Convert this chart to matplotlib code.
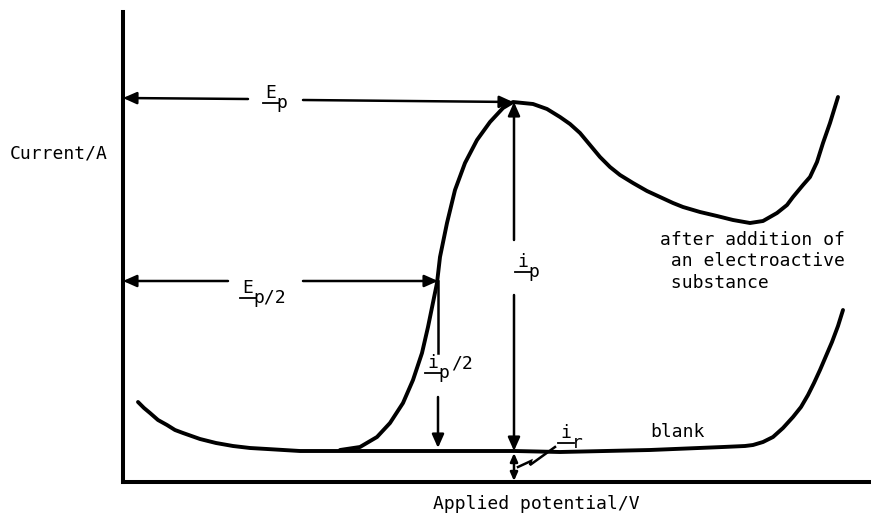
import matplotlib
matplotlib.use("Agg")
import matplotlib.pyplot as plt
from matplotlib.transforms import offset_copy

# ---- data (arbitrary units: potential along x, current along y) ----
blank_x = [15, 21, 27, 35, 44, 52, 60, 77, 93, 110, 127, 144, 177, 224, 327, 392, 437, 527, 600, 622,
           630, 640, 650, 660, 670, 678, 685, 691, 697, 703, 709, 715, 720]
blank_y = [80, 74, 69, 62, 57, 52, 49, 43, 39, 36, 34, 33, 31, 31, 31, 31, 30, 32, 35, 36,
           37, 40, 45, 54, 65, 75, 87, 99, 112, 126, 140, 156, 172]

peak_x = [217, 237, 254, 267, 280, 290, 299, 305, 314, 317, 324, 332, 342, 354, 367, 380, 390,
          410, 424, 437, 447, 457, 467, 477, 487, 497, 510, 524, 537, 550, 560, 577, 594, 610,
          627, 640, 654, 664, 670, 680, 687, 694, 700, 707, 715]
peak_y = [32, 35, 45, 59, 79, 102, 129, 155, 199, 225, 259, 292, 319, 342, 360, 374, 380,
          378, 373, 365, 358, 349, 337, 325, 315, 307, 299, 291, 285, 279, 275, 270, 266, 262,
          259, 261, 269, 277, 285, 297, 305, 320, 339, 359, 385]

Ep = 390        # peak potential
ip_top = 380    # peak current
Ep2 = 315       # half-peak potential
ip2 = 201       # half-peak current
base = 31       # blank current level

x_label = "Applied potential/V"
y_label = "Current/A"
curve_label = ["after addition of", " an electroactive", " substance"]

FONT = "DejaVu Sans Mono"
FS = 13
ADV = 0.602 * FS * 100 / 72  # char advance in pixels

fig = plt.figure(figsize=(8.71, 5.16), dpi=100)
ax = fig.add_axes([123 / 871, 34 / 516, 748 / 871, 470 / 516])
ax.set_xlim(0, 748)
ax.set_ylim(0, 470)
ax.set_xticks([])
ax.set_yticks([])
for s in ("top", "right"):
    ax.spines[s].set_visible(False)
for s in ("left", "bottom"):
    ax.spines[s].set_linewidth(2.9)
    ax.spines[s].set_capstyle("projecting")

ax.plot(blank_x, blank_y, color="black", lw=2.8, solid_capstyle="round", solid_joinstyle="round", clip_on=False)
ax.plot(peak_x, peak_y, color="black", lw=2.8, solid_capstyle="round", solid_joinstyle="round", clip_on=False)


def arrow(x0, y0, x1, y1, style="-|>", ms=18, lw=1.8):
    ax.annotate("", xy=(x1, y1), xytext=(x0, y0),
                arrowprops=dict(arrowstyle=style + ",head_length=0.45,head_width=0.2",
                                color="black", lw=lw, shrinkA=0, shrinkB=0,
                                mutation_scale=ms), annotation_clip=False)


# E_p horizontal arrow (gap for label)
arrow(125, 383, 0, 384)
arrow(180, 382, Ep, ip_top)
# E_p/2 horizontal arrow
arrow(105, ip2, 0, ip2)
arrow(180, ip2, Ep2, ip2)
# i_p vertical arrow
arrow(391, 242, 391, ip_top)
arrow(391, 187, 391, base)
# i_p/2 vertical arrow
ax.plot([Ep2, Ep2], [ip2, 129], color="black", lw=1.8)
arrow(Ep2, 85, Ep2, base + 3)
# i_r small double arrow
arrow(391, base - 2, 391, 1, style="<|-|>", ms=11, lw=1.8)
# squiggle leader for i_r
sq_x = [395, 408, 407, 432]
sq_y = [15, 21, 17, 35]
ax.plot(sq_x, sq_y, color="black", lw=1.8, solid_joinstyle="miter")


def sub_label(x, y, main, sub, tail=""):
    kw = dict(fontfamily=FONT, fontsize=FS, color="black", ha="left", va="baseline", clip_on=False)
    ax.text(x, y, main, **kw)
    w = ADV * len(main)
    tr_sub = offset_copy(ax.transData, fig=fig, x=w + 1, y=-10, units="dots")
    ax.text(x, y, sub, transform=tr_sub, **kw)
    tr_ul = offset_copy(ax.transData, fig=fig, x=0, y=-4.5, units="dots")
    ax.plot([x - 2, x + w + 3], [y, y], transform=tr_ul, color="black", lw=1.3, clip_on=False)
    if tail:
        tr_tail = offset_copy(ax.transData, fig=fig, x=w + ADV * len(sub) + 2, y=0, units="dots")
        ax.text(x, y, tail, transform=tr_tail, **kw)


sub_label(142, 384, "E", "p")
sub_label(119, 189, "E", "p/2")
sub_label(394, 215, "i", "p")
sub_label(304, 114, "i", "p", "/2")
sub_label(437, 44, "i", "r")

tkw = dict(fontfamily=FONT, fontsize=FS, color="black", ha="left", va="baseline", clip_on=False)
ax.text(527, 45, "blank", **tkw)
for i, line in enumerate(curve_label):
    ax.text(537, 237 - 21.5 * i, line, **tkw)
ax.text(-113, 324, y_label, **tkw)
ax.text(310, -27, x_label, **tkw)

fig.savefig("out.png", dpi=100, facecolor="white")
